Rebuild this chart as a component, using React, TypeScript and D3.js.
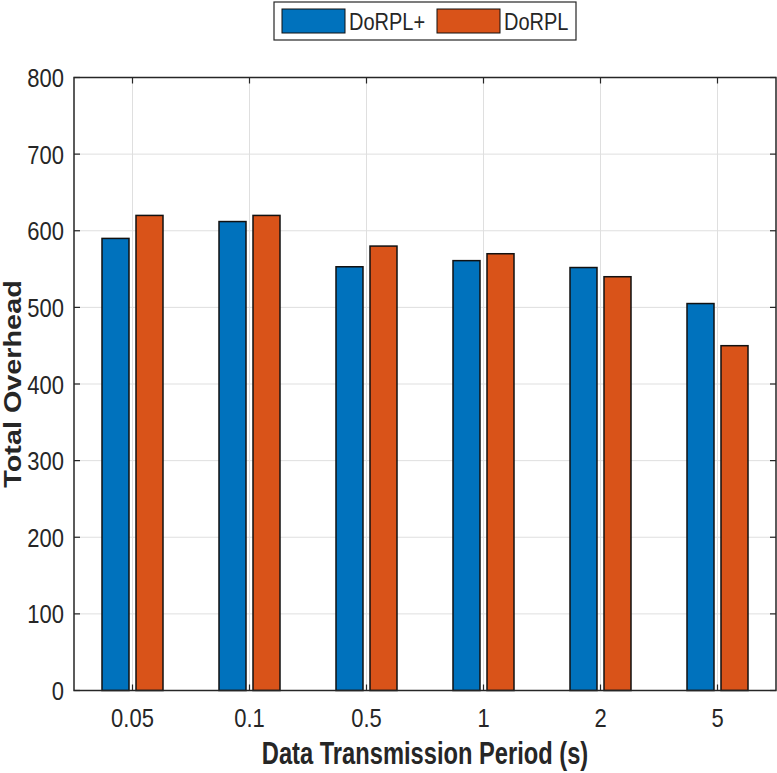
import React from 'react';
import * as d3 from 'd3';

// chart data
const periods = ['0.05', '0.1', '0.5', '1', '2', '5'];
const seriesNames = ['DoRPL+', 'DoRPL'];
const dorplPlus = [590, 612, 553, 561, 552, 505];
const dorpl = [620, 620, 580, 570, 540, 450];
const yTicks = [0, 100, 200, 300, 400, 500, 600, 700, 800];
const colors = ['#0072BD', '#D95319'];

const W = 777;
const H = 773;
const left = 74;
const right = 776;
const top = 77.5;
const bottom = 690.5;
const font = 'Liberation Sans, Arial, Helvetica, sans-serif';

// text is a bit taller than wide in the reference
function Label(props: { x: number; y: number; sy: number; size: number; anchor?: string; bold?: boolean; children: any }) {
  return (
    <text
      transform={`translate(${props.x},${props.y}) scale(1,${props.sy})`}
      textAnchor={props.anchor || 'start'}
      fontFamily={font}
      fontSize={props.size}
      fontWeight={props.bold ? 'bold' : 'normal'}
      fill="#262626"
    >
      {props.children}
    </text>
  );
}

export default function App() {
  const x = d3.scaleBand().domain(periods).range([left, right]).padding(0);
  const inner = d3.scaleBand().domain(seriesNames).range([-30.5, 30.5]).paddingInner(0.206);
  const y = d3.scaleLinear().domain([0, 800]).range([bottom, top]);
  const values = [dorplPlus, dorpl];

  return (
    <svg width={W} height={H} style={{ position: 'absolute', left: 0, top: 0, background: '#fff' }}>
      <rect x={0} y={0} width={W} height={H} fill="#fff" />
      {/* grid */}
      {yTicks.map(t => (
        <line key={'gy' + t} x1={left} x2={right} y1={y(t)} y2={y(t)} stroke="#dfdfdf" strokeWidth={1} />
      ))}
      {periods.map(p => {
        const cx = x(p)! + x.bandwidth() / 2;
        return <line key={'gx' + p} x1={cx} x2={cx} y1={top} y2={bottom} stroke="#dfdfdf" strokeWidth={1} />;
      })}
      {/* bars */}
      {seriesNames.map((s, si) =>
        periods.map((p, i) => {
          const cx = x(p)! + x.bandwidth() / 2;
          const v = values[si][i];
          return (
            <rect
              key={s + p}
              x={cx + inner(s)!}
              y={y(v)}
              width={inner.bandwidth()}
              height={bottom - y(v)}
              fill={colors[si]}
              stroke="#111"
              strokeWidth={1.5}
            />
          );
        })
      )}
      {/* axes box */}
      <rect x={left} y={top} width={right - left} height={bottom - top} fill="none" stroke="#262626" strokeWidth={1.5} />
      {yTicks.map(t => (
        <g key={'ty' + t}>
          <line x1={left} x2={left + 6} y1={y(t)} y2={y(t)} stroke="#262626" strokeWidth={1.2} />
          <line x1={right - 6} x2={right} y1={y(t)} y2={y(t)} stroke="#262626" strokeWidth={1.2} />
          <Label x={64} y={y(t) + 9.5} sy={1.2} size={22} anchor="end">{t}</Label>
        </g>
      ))}
      {periods.map(p => {
        const cx = x(p)! + x.bandwidth() / 2;
        return (
          <g key={'tx' + p}>
            <line x1={cx} x2={cx} y1={bottom} y2={bottom - 6} stroke="#262626" strokeWidth={1.2} />
            <line x1={cx} x2={cx} y1={top} y2={top + 6} stroke="#262626" strokeWidth={1.2} />
            <Label x={cx} y={727} sy={1.2} size={22} anchor="middle">{p}</Label>
          </g>
        );
      })}
      {/* axis labels */}
      <Label x={425} y={764} sy={1.3} size={23.7} anchor="middle" bold>
        Data Transmission Period (s)
      </Label>
      <text
        transform={`translate(21,384) rotate(-90) scale(1.2,1)`}
        textAnchor="middle"
        fontFamily={font}
        fontSize={24}
        fontWeight="bold"
        fill="#262626"
      >
        Total Overhead
      </text>
      {/* legend */}
      <rect x={274} y={2} width={302} height={38} fill="#fff" stroke="#262626" strokeWidth={1.2} />
      {seriesNames.map((s, i) => {
        const lx = i === 0 ? 282 : 437;
        return (
          <g key={'lg' + s}>
            <rect x={lx} y={9} width={63} height={24} fill={colors[i]} stroke="#111" strokeWidth={1} />
            <Label x={lx + 67} y={30} sy={1.2} size={20}>{s}</Label>
          </g>
        );
      })}
    </svg>
  );
}
